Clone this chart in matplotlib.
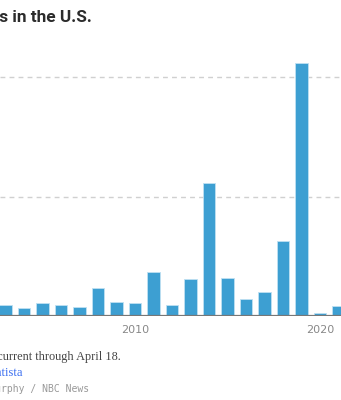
import matplotlib.pyplot as plt

# Measles cases reported in the U.S. by year
years = [2003, 2004, 2005, 2006, 2007, 2008, 2009, 2010, 2011, 2012,
         2013, 2014, 2015, 2016, 2017, 2018, 2019, 2020, 2021]
cases = [56, 37, 66, 55, 43, 140, 71, 63, 220, 55,
         187, 667, 188, 86, 120, 375, 1274, 13, 49]
grid_values = [600, 1200]
tick_years = [2010, 2020]

W, H = 341, 400
fig = plt.figure(figsize=(W / 100, H / 100), dpi=100)

# axes spans the full width; x limits place 2010 at 135px and 2020 at 320px
px_per_year = 18.5
x0 = 2010 - 135 / px_per_year
x1 = x0 + W / px_per_year
base_y = 315.7
px_per_case = 119.2 / 600
top_y = 40
ax = fig.add_axes([0, 1 - base_y / H, 1, (base_y - top_y) / H])
ax.set_xlim(x0, x1)
ax.set_ylim(0, (base_y - top_y) / px_per_case)

for g in grid_values:
    ax.axhline(g, color='#d0d0d0', lw=1, ls=(0, (3.5, 3)), zorder=0)

ax.bar(years, cases, width=0.66, color='#3d9fd2', edgecolor='#bfe0f2',
       linewidth=0.6, zorder=2)
ax.axhline(0, color='#777777', lw=1.6, zorder=3)

for s in ax.spines.values():
    s.set_visible(False)
ax.set_yticks([])
ax.set_xticks(tick_years)
ax.set_xticklabels([str(y) for y in tick_years], color='#888888',
                   fontsize=8, family='DejaVu Sans')
ax.tick_params(axis='x', length=0, pad=7)

fig.text(92 / W, 1 - 17.5 / H, 'Measles cases in the U.S.', ha='right',
         va='center', fontsize=12.4, fontweight='bold', color='#2b2b2b',
         family='Roboto')
fig.text(121 / W, 1 - 357 / H, 'Data for 2022 is current through April 18.',
         ha='right', va='center', fontsize=8.8, color='#444444',
         family='Liberation Serif')
fig.text(23 / W, 1 - 373 / H, 'Source: Statista', ha='right', va='center',
         fontsize=9, color='#3b6ff0', family='Liberation Serif')
fig.text(89 / W, 1 - 389 / H, 'Graphic: Jiachuan Wu, Murphy / NBC News',
         ha='right', va='center', fontsize=7, color='#999999',
         family='DejaVu Sans Mono')

fig.savefig('out.png', dpi=100)
